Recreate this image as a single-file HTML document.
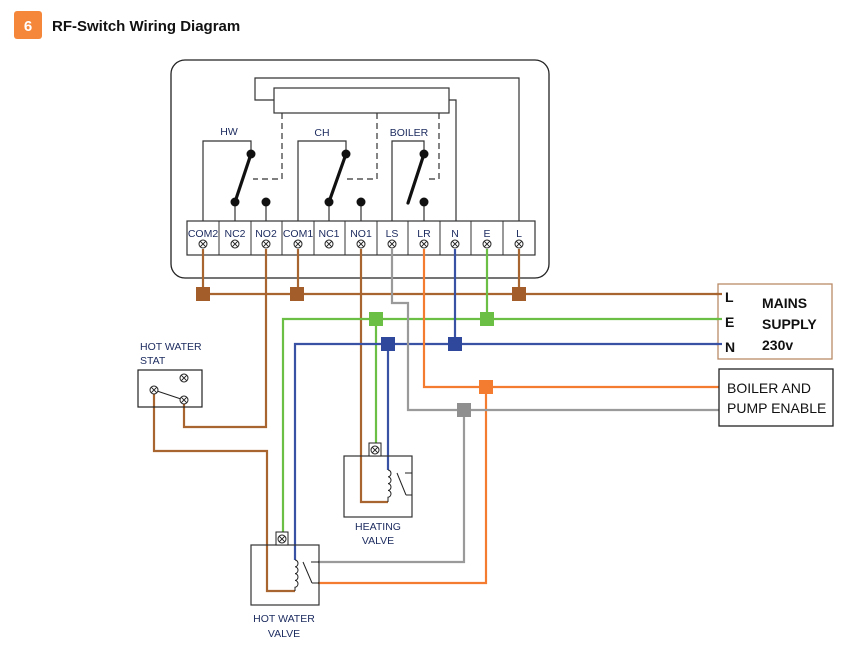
<!DOCTYPE html>
<html><head><meta charset="utf-8"><style>
html,body{margin:0;padding:0;background:#fff;}
svg{display:block;font-family:"Liberation Sans",sans-serif;}
.lb{font-size:10.5px;fill:#1b2a5e;}
</style></head><body>
<svg width="863" height="645" viewBox="0 0 863 645" xmlns="http://www.w3.org/2000/svg">
<defs>
<g id="tx"><circle cx="0" cy="0" r="4" fill="#fff" stroke="#222" stroke-width="1"/><path d="M-2.8,-2.8L2.8,2.8M2.8,-2.8L-2.8,2.8" stroke="#222" stroke-width="1"/></g>
</defs>
<!-- title -->
<rect x="14" y="11" width="28" height="28" rx="3" fill="#f4873a"/>
<text x="28" y="31" text-anchor="middle" font-size="15" font-weight="bold" fill="#fff">6</text>
<text x="52" y="31" font-size="15" font-weight="bold" fill="#111">RF-Switch Wiring Diagram</text>

<!-- controller box -->
<rect x="171" y="60" width="378" height="218" rx="14" fill="none" stroke="#222" stroke-width="1.3"/>
<rect x="274" y="88" width="175" height="25" fill="none" stroke="#333" stroke-width="1.2"/>
<polyline points="274,100 255,100 255,78 519,78 519,221" fill="none" stroke="#333" stroke-width="1.2"/>
<polyline points="449,100 456,100 456,221" fill="none" stroke="#333" stroke-width="1.2"/>
<g stroke="#333" stroke-width="1.2" stroke-dasharray="6,4" fill="none">
<polyline points="282,113 282,179 253,179"/>
<polyline points="377,113 377,179 345,179"/>
<polyline points="439,113 439,179 426,179"/>
</g>
<g stroke="#333" stroke-width="1.2" fill="none">
<polyline points="203,221 203,141 251,141 251,153"/>
<polyline points="298,221 298,141 346,141 346,153"/>
<polyline points="392,221 392,141 424,141 424,153"/>
<line x1="235" y1="203" x2="235" y2="221"/><line x1="266" y1="203" x2="266" y2="221"/>
<line x1="329" y1="203" x2="329" y2="221"/><line x1="361" y1="203" x2="361" y2="221"/>
<line x1="424" y1="203" x2="424" y2="221"/>
</g>
<g stroke="#111" stroke-width="3.2" stroke-linecap="round">
<line x1="251" y1="154" x2="235" y2="202"/>
<line x1="346" y1="154" x2="329" y2="202"/>
<line x1="424" y1="154" x2="408" y2="203"/>
</g>
<g fill="#111">
<circle cx="251" cy="154" r="4.5"/><circle cx="235" cy="202" r="4.5"/><circle cx="266" cy="202" r="4.5"/>
<circle cx="346" cy="154" r="4.5"/><circle cx="329" cy="202" r="4.5"/><circle cx="361" cy="202" r="4.5"/>
<circle cx="424" cy="154" r="4.5"/><circle cx="424" cy="202" r="4.5"/>
</g>
<text x="229" y="135" text-anchor="middle" class="lb" font-size="11.5">HW</text>
<text x="322" y="136" text-anchor="middle" class="lb" font-size="11.5">CH</text>
<text x="409" y="136" text-anchor="middle" class="lb" font-size="11.5">BOILER</text>

<!-- terminal strip -->
<rect x="187" y="221" width="348" height="34" fill="#fff" stroke="#333" stroke-width="1.2"/>
<g stroke="#333" stroke-width="1">
<line x1="219" y1="221" x2="219" y2="255"/><line x1="251" y1="221" x2="251" y2="255"/><line x1="282" y1="221" x2="282" y2="255"/>
<line x1="314" y1="221" x2="314" y2="255"/><line x1="345" y1="221" x2="345" y2="255"/><line x1="377" y1="221" x2="377" y2="255"/>
<line x1="408" y1="221" x2="408" y2="255"/><line x1="440" y1="221" x2="440" y2="255"/><line x1="471" y1="221" x2="471" y2="255"/>
<line x1="503" y1="221" x2="503" y2="255"/>
</g>
<g class="lb" text-anchor="middle" font-size="10">
<text x="203" y="237">COM2</text><text x="235" y="237">NC2</text><text x="266" y="237">NO2</text><text x="298" y="237">COM1</text>
<text x="329" y="237">NC1</text><text x="361" y="237">NO1</text><text x="392" y="237">LS</text><text x="424" y="237">LR</text>
<text x="455" y="237">N</text><text x="487" y="237">E</text><text x="519" y="237">L</text>
</g>

<!-- wires -->
<g fill="none" stroke-width="2.2">
<g stroke="#a8652f">
<line x1="203" y1="249" x2="203" y2="294"/>
<line x1="298" y1="249" x2="298" y2="294"/>
<line x1="519" y1="249" x2="519" y2="294"/>
<line x1="203" y1="294" x2="720" y2="294"/>
<polyline points="266,249 266,427 184,427 184,400"/>
<polyline points="154,390 154,451 267,451 267,591 295,591"/>
<polyline points="361,249 361,502 388,502"/>
</g>
<g stroke="#6cbf45">
<polyline points="283,532 283,319 720,319"/>
<line x1="487" y1="249" x2="487" y2="319"/>
<line x1="376" y1="319" x2="376" y2="443"/>
</g>
<g stroke="#3a52a3">
<polyline points="295,560 295,344 720,344"/>
<line x1="455" y1="249" x2="455" y2="344"/>
<line x1="388" y1="344" x2="388" y2="470"/>
</g>
<g stroke="#f47c30">
<polyline points="424,249 424,387 720,387"/>
<polyline points="486,387 486,583 318,583"/>
</g>
<g stroke="#9a9a9a">
<polyline points="392,249 392,303 408,303 408,410 720,410"/>
<polyline points="464,410 464,562 318,562"/>
</g>
</g>
<use href="#tx" x="203" y="244"/><use href="#tx" x="235" y="244"/><use href="#tx" x="266" y="244"/><use href="#tx" x="298" y="244"/>
<use href="#tx" x="329" y="244"/><use href="#tx" x="361" y="244"/><use href="#tx" x="392" y="244"/><use href="#tx" x="424" y="244"/>
<use href="#tx" x="455" y="244"/><use href="#tx" x="487" y="244"/><use href="#tx" x="519" y="244"/>

<rect x="196" y="287" width="14" height="14" fill="#a25d2a"/>
<rect x="290" y="287" width="14" height="14" fill="#a25d2a"/>
<rect x="512" y="287" width="14" height="14" fill="#a25d2a"/>
<rect x="369" y="312" width="14" height="14" fill="#6cbf45"/>
<rect x="480" y="312" width="14" height="14" fill="#6cbf45"/>
<rect x="381" y="337" width="14" height="14" fill="#30489c"/>
<rect x="448" y="337" width="14" height="14" fill="#30489c"/>
<rect x="479" y="380" width="14" height="14" fill="#f47c30"/>
<rect x="457" y="403" width="14" height="14" fill="#8f8f8f"/>

<rect x="718" y="284" width="114" height="75" fill="#fff" stroke="#b98a66" stroke-width="1.3"/>
<g stroke-width="2.2"><line x1="716" y1="294" x2="722" y2="294" stroke="#a8652f"/><line x1="716" y1="319" x2="722" y2="319" stroke="#6cbf45"/><line x1="716" y1="344" x2="722" y2="344" stroke="#3a52a3"/></g>
<g font-size="14" font-weight="bold" fill="#111">
<text x="725" y="302">L</text><text x="725" y="327">E</text><text x="725" y="352">N</text>
<text x="762" y="308">MAINS</text><text x="762" y="329">SUPPLY</text><text x="762" y="350">230v</text>
</g>
<rect x="719" y="369" width="114" height="57" fill="#fff" stroke="#222" stroke-width="1.3"/>
<g font-size="14" fill="#111"><text x="727" y="393">BOILER AND</text><text x="727" y="413">PUMP ENABLE</text></g>

<text x="140" y="350" class="lb" font-size="11">HOT WATER</text>
<text x="140" y="364" class="lb" font-size="11">STAT</text>
<rect x="138" y="370" width="64" height="37" fill="none" stroke="#222" stroke-width="1.2"/>
<line x1="154" y1="390" x2="184" y2="400" stroke="#222" stroke-width="1"/>
<use href="#tx" x="184" y="378"/><use href="#tx" x="154" y="390"/><use href="#tx" x="184" y="400"/>

<rect x="344" y="456" width="68" height="61" fill="none" stroke="#333" stroke-width="1.2"/>
<rect x="369" y="443" width="12" height="13" fill="#fff" stroke="#222" stroke-width="1"/>
<use href="#tx" x="375" y="450"/>
<g fill="none" stroke="#222" stroke-width="1">
<path d="M388,470 a3,3.4 0 0 1 0,6.8 a3,3.4 0 0 1 0,6.8 a3,3.4 0 0 1 0,6.8 a3,3.4 0 0 1 0,6.8 L388,502"/>
<line x1="405" y1="473" x2="412" y2="473"/>
<line x1="397" y1="473" x2="406" y2="495"/>
<line x1="406" y1="495" x2="412" y2="495"/>
</g>
<text x="378" y="530" text-anchor="middle" class="lb" font-size="11">HEATING</text>
<text x="378" y="544" text-anchor="middle" class="lb" font-size="11">VALVE</text>

<rect x="251" y="545" width="68" height="60" fill="none" stroke="#333" stroke-width="1.2"/>
<rect x="276" y="532" width="12" height="13" fill="#fff" stroke="#222" stroke-width="1"/>
<use href="#tx" x="282" y="539"/>
<g fill="none" stroke="#222" stroke-width="1">
<path d="M295,560 a3,3.4 0 0 1 0,6.8 a3,3.4 0 0 1 0,6.8 a3,3.4 0 0 1 0,6.8 a3,3.4 0 0 1 0,6.8 L295,591"/>
<line x1="311" y1="562" x2="319" y2="562"/>
<line x1="303" y1="562" x2="312" y2="583"/>
<line x1="312" y1="583" x2="319" y2="583"/>
</g>
<text x="284" y="622" text-anchor="middle" class="lb" font-size="11">HOT WATER</text>
<text x="284" y="637" text-anchor="middle" class="lb" font-size="11">VALVE</text>
</svg>
</body></html>
